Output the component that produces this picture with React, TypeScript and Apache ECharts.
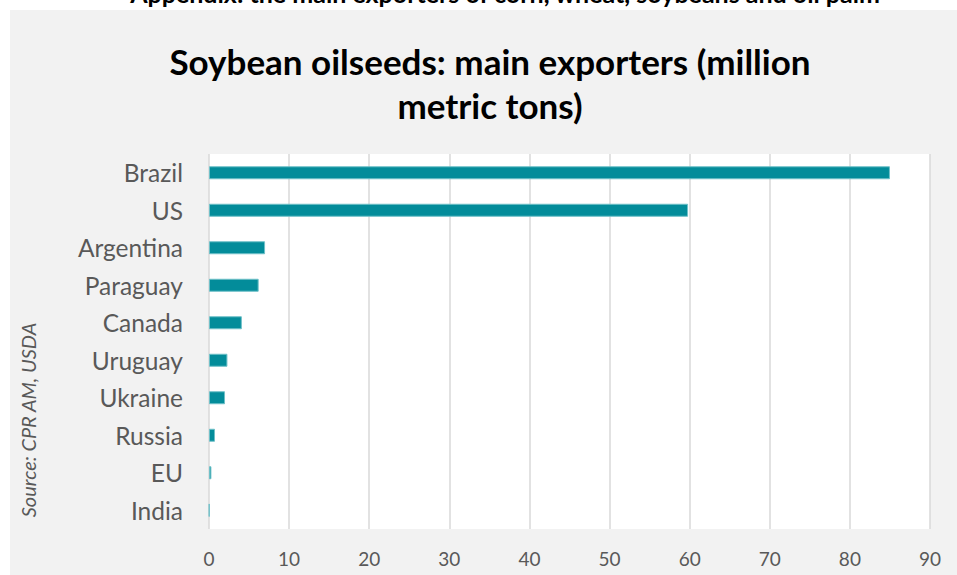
import React, { useEffect, useRef } from "react";
import * as echarts from "echarts";

const categories = ["Brazil", "US", "Argentina", "Paraguay", "Canada", "Uruguay", "Ukraine", "Russia", "EU", "India"];
const exports = [85, 59.8, 7.0, 6.2, 4.1, 2.3, 2.0, 0.75, 0.3, 0.05];
const xTicks = { min: 0, max: 90, interval: 10 };

export default function App() {
  const ref = useRef<HTMLDivElement>(null);
  useEffect(() => {
    document.body.style.margin = "0";
    const chart = echarts.init(ref.current!, null, { renderer: "svg" });
    chart.setOption({
      animation: false,
      backgroundColor: "#ffffff",
      graphic: [
        { type: "rect", z: -10, shape: { x: 10, y: 10, width: 960, height: 580 }, style: { fill: "#f2f2f2" } },
        {
          type: "text", x: 505, y: 5,
          style: { text: "Appendix: the main exporters of corn, wheat, soybeans and oil palm", font: "bold 25px Lato", fill: "#000", align: "center", verticalAlign: "bottom" },
        },
        {
          type: "text", x: 490, y: 61,
          style: { text: "Soybean oilseeds: main exporters (million", font: "bold 35px Lato", fill: "#000", align: "center", verticalAlign: "middle" },
        },
        {
          type: "text", x: 490, y: 105,
          style: { text: "metric tons)", font: "bold 35px Lato", fill: "#000", align: "center", verticalAlign: "middle" },
        },
        {
          type: "text", x: 28, y: 420, rotation: Math.PI / 2,
          style: { text: "Source: CPR AM, USDA", font: "italic 20px Lato", fill: "#595959", align: "center", verticalAlign: "middle" },
        },
      ],
      grid: { left: 209, right: 27, top: 154, bottom: 46, show: true, backgroundColor: "#ffffff", borderWidth: 0 },
      xAxis: {
        type: "value", min: xTicks.min, max: xTicks.max, interval: xTicks.interval,
        axisLine: { show: false }, axisTick: { show: false },
        axisLabel: { color: "#595959", fontSize: 19, fontFamily: "Lato", margin: 20 },
        splitLine: { show: true, lineStyle: { color: "#d9d9d9", width: 1.5 } },
      },
      yAxis: {
        type: "category", data: categories, inverse: true,
        axisLine: { show: false }, axisTick: { show: false },
        axisLabel: { color: "#595959", fontSize: 24.5, fontFamily: "Lato", margin: 26 },
      },
      series: [
        {
          type: "bar", data: exports, barWidth: 13,
          itemStyle: { color: "#038c9a", borderColor: "#6fc0c8", borderWidth: 1 },
        },
      ],
    });
    return () => chart.dispose();
  }, []);
  return <div ref={ref} style={{ position: "absolute", left: 0, top: 0, width: 957, height: 575 }} />;
}
